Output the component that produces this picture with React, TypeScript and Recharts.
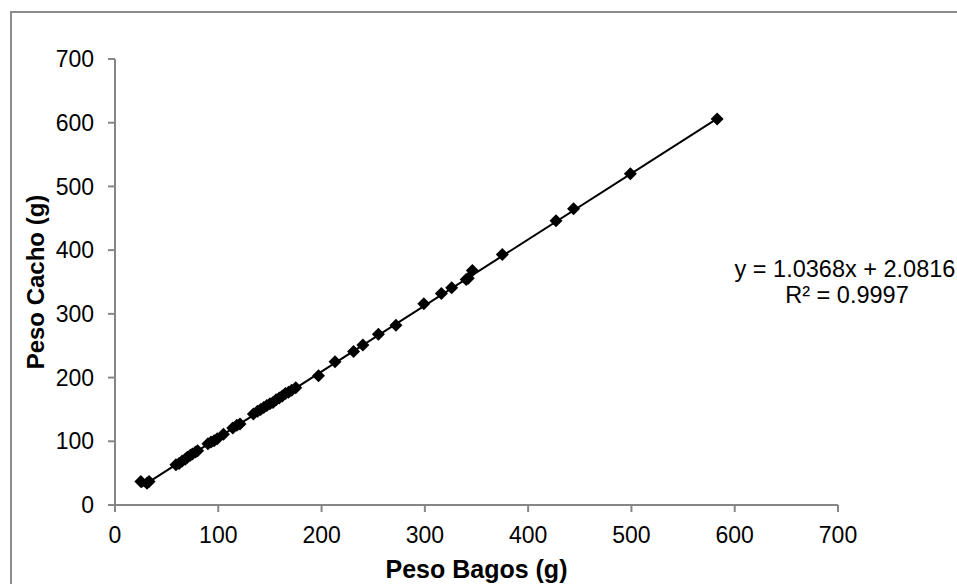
import React from 'react';
import { ScatterChart, Scatter, XAxis, YAxis } from 'recharts';

const pesoBagos = [25, 31, 33, 59, 62, 65, 68, 70, 73, 75, 78, 80, 90, 93, 96, 99, 105, 114, 118, 121, 134, 138, 141, 144, 147, 150, 153, 156, 159, 162, 165, 168, 171, 175, 197, 213, 231, 240, 255, 272, 299, 316, 326, 340, 342, 346, 375, 427, 444, 499, 583];
const pesoCacho = [37, 34, 37, 63, 65, 69, 72, 75, 78, 80, 83, 85, 96, 99, 101, 104, 111, 121, 125, 127, 143, 147, 150, 153, 156, 159, 161, 165, 168, 171, 175, 177, 180, 184, 203, 225, 241, 251, 268, 282, 316, 332, 341, 354, 356, 368, 393, 446, 465, 520, 606];
const xTicks = [0, 100, 200, 300, 400, 500, 600, 700];
const yTicks = [0, 100, 200, 300, 400, 500, 600, 700];
const slope = 1.0368;
const intercept = 2.0816;
const equationText = 'y = 1.0368x + 2.0816';
const r2Text = 'R² = 0.9997';

const points = pesoBagos.map((x, i) => ({ x, y: pesoCacho[i] }));
const xMin = Math.min(...pesoBagos);
const xMax = Math.max(...pesoBagos);
const trend = [
  { x: xMin, y: slope * xMin + intercept },
  { x: xMax, y: slope * xMax + intercept },
];

const FONT = '"Liberation Sans", Arial, sans-serif';
const AXIS = '#868686';

const Diamond = (props: any) => {
  const { cx, cy } = props;
  if (cx == null || cy == null) return null;
  const r = 6.5;
  return <path d={`M${cx},${cy - r}L${cx + r},${cy}L${cx},${cy + r}L${cx - r},${cy}Z`} fill="#000" />;
};

const NoShape = () => null;

export default function App() {
  return (
    <div style={{ position: 'absolute', left: 0, top: 0, width: 957, height: 584, background: '#fff', overflow: 'hidden' }}>
      <div style={{ position: 'absolute', left: 10, top: 11, width: 960, height: 600, borderLeft: '2px solid #8c8c8c', borderTop: '2px solid #8c8c8c' }} />
      <ScatterChart width={957} height={584} margin={{ top: 59, right: 119, bottom: 0, left: 0 }}>
        <XAxis
          type="number"
          dataKey="x"
          domain={[0, 700]}
          ticks={xTicks}
          interval={0}
          height={79}
          tickSize={7}
          tickMargin={15}
          stroke={AXIS}
          strokeWidth={2}
          tick={{ fill: '#000', fontSize: 23, fontFamily: FONT }}
          label={{
            content: (p: any) => {
              const vb = p.viewBox;
              return (
                <text x={vb.x + vb.width / 2} y={578} textAnchor="middle" fontFamily={FONT} fontSize={25} fontWeight="bold" fill="#000">
                  Peso Bagos (g)
                </text>
              );
            },
          }}
        />
        <YAxis
          type="number"
          dataKey="y"
          domain={[0, 700]}
          ticks={yTicks}
          interval={0}
          width={115}
          tickSize={7}
          tickMargin={14}
          stroke={AXIS}
          strokeWidth={2}
          tick={{ fill: '#000', fontSize: 23, fontFamily: FONT }}
          label={{
            content: (p: any) => {
              const vb = p.viewBox;
              const cx = 35;
              const cy = vb.y + vb.height / 2;
              return (
                <text x={cx} y={cy} transform={`rotate(-90 ${cx} ${cy})`} textAnchor="middle" dominantBaseline="central" fontFamily={FONT} fontSize={24} fontWeight="bold" fill="#000">
                  Peso Cacho (g)
                </text>
              );
            },
          }}
        />
        <Scatter data={trend} line={{ stroke: '#000', strokeWidth: 2 }} shape={NoShape} isAnimationActive={false} />
        <Scatter data={points} shape={Diamond} fill="#000" isAnimationActive={false} />
      </ScatterChart>
      <svg width={957} height={584} style={{ position: 'absolute', left: 0, top: 0, pointerEvents: 'none' }}>
        <text x={845} y={277} textAnchor="middle" fontFamily={FONT} fontSize={23.5} fill="#000">{equationText}</text>
        <text x={847} y={303} textAnchor="middle" fontFamily={FONT} fontSize={23.5} fill="#000">{r2Text}</text>
      </svg>
    </div>
  );
}
